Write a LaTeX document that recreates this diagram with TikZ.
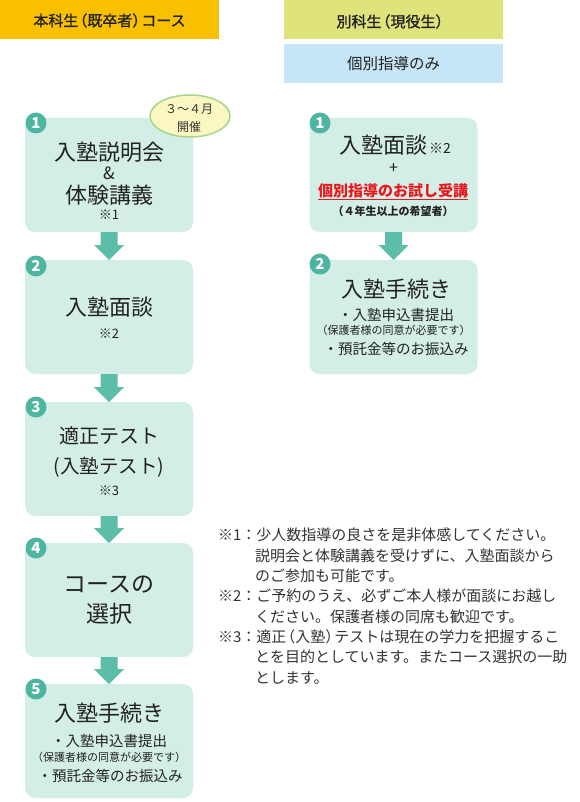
\documentclass[tikz,border=0pt]{standalone}
\usepackage{fontspec}
\setmainfont{Noto Sans CJK JP}
\newfontfamily\medfont[FakeBold=1.2]{Noto Sans CJK JP}
\usetikzlibrary{shapes.geometric,calc}
\definecolor{hdrorange}{HTML}{F9C000}
\definecolor{hdrgreen}{HTML}{DEE47B}
\definecolor{hdrblue}{HTML}{C6E6F8}
\definecolor{boxfill}{HTML}{D3EDE7}
\definecolor{arrowc}{HTML}{5CBEA8}
\definecolor{numc}{HTML}{4DB5A2}
\definecolor{txt}{HTML}{222222}
\definecolor{notetxt}{HTML}{333333}
\definecolor{redtxt}{HTML}{E8191E}
\definecolor{ellfill}{HTML}{FBF7C2}
\definecolor{elldraw}{HTML}{A6D68E}
\newcommand{\fs}[1]{\fontsize{#1}{#1}\selectfont}
\newcommand{\flowarrow}[2]{%
  \fill[arrowc] ($(#1.south)+(-8.5,0)$) -- ($(#2.north)+(-8.5,-15)$) -- ($(#2.north)+(-15,-15)$) -- (#2.north)
    -- ($(#2.north)+(15,-15)$) -- ($(#2.north)+(8.5,-15)$) -- ($(#1.south)+(8.5,0)$) -- cycle;}
\begin{document}
\begin{tikzpicture}[x=1pt,y=-1pt,
  every node/.style={inner sep=0pt, outer sep=0pt, text=txt},
  hdr/.style={rectangle, minimum height=39pt, minimum width=219pt, anchor=north west},
  flowbox/.style={rectangle, rounded corners=10pt, fill=boxfill, minimum width=168pt, minimum height=114pt},
  numdot/.style={circle, fill=numc, minimum size=21pt, text=white, font=\bfseries\fs{15}},
  big/.style={font=\fs{22}},
  small/.style={font=\fs{13}},
  bullet/.style={font=\fs{14.5}},
  tiny/.style={font=\fs{11}},
  note/.style={anchor=west, font=\fs{15}, text=notetxt},
]
\useasboundingbox (0,0) rectangle (580,802);
\fill[white] (0,0) rectangle (580,802);

% headers
\node[hdr, fill=hdrorange] (h1) at (0,0) {};
\node[font=\medfont\fs{15}] (h1t) at ($(h1.center)+(0,1)$) {本科生\kern-.4em（既卒者）\kern-.4em コース};
\node[hdr, fill=hdrgreen] (h2) at (284,0) {};
\node[font=\medfont\fs{15}] (h2t) at ($(h2.center)+(0,2)$) {別科生\kern-.4em（現役生）};
\node[hdr, fill=hdrblue] (h3) at (284,44) {};
\node[font=\fs{15.5}] (h3t) at (h3.center) {個別指導のみ};

% left boxes
\node[flowbox] (b1) at (109,175) {};
\node[flowbox] (b2) at (109,317) {};
\node[flowbox] (b3) at (109,459) {};
\node[flowbox] (b4) at (109,600) {};
\node[flowbox] (b5) at (109,741) {};
% right boxes
\node[flowbox] (r1) at (393.5,175) {};
\node[flowbox] (r2) at (393.5,317) {};

% arrows
\flowarrow{b1}{b2}
\flowarrow{b2}{b3}
\flowarrow{b3}{b4}
\flowarrow{b4}{b5}
\flowarrow{r1}{r2}

% number dots
\node[numdot] (n1) at (36,123) {1};
\node[numdot] (n2) at (36,266) {2};
\node[numdot] (n3) at (36,407) {3};
\node[numdot] (n4) at (36,548) {4};
\node[numdot] (n5) at (36,689) {5};
\node[numdot] (m1) at (320,123) {1};
\node[numdot] (m2) at (320,264) {2};

% ellipse
\node[ellipse, fill=ellfill, draw=elldraw, line width=1.5pt, minimum width=80pt, minimum height=42pt] (el) at (190,116) {};
\node[font=\fs{12}, text=notetxt] (elt1) at (189,109) {３～４月};
\node[font=\fs{12}, text=notetxt] (elt2) at (189,127) {開催};

% box 1 text
\node[big] (b1a) at (109,152) {入塾説明会};
\node[font=\fs{17}] (b1b) at (109,173) {\&};
\node[big] (b1c) at (109,195) {体験講義};
\node[small] (b1d) at (109,215) {※1};
% box 2
\node[big] (b2a) at (109,307) {入塾面談};
\node[small] (b2b) at (109,334) {※2};
% box 3
\node[font=\fs{20}] (b3a) at (109,436) {適正テスト};
\node[font=\fs{19.5}] (b3b) at (109,467) {(入塾テスト)};
\node[small] (b3c) at (109,491) {※3};
% box 4
\node[font=\fs{23}] (b4a) at (109,585) {コースの};
\node[font=\fs{23}] (b4b) at (109,614) {選択};
% box 5
\node[big] (b5a) at (109,713) {入塾手続き};
\node[bullet] (b5b) at (109,741) {・入塾申込書提出};
\node[tiny] (b5c) at (109,757) {（保護者様の同意が必要です）};
\node[bullet] (b5d) at (110,776) {・預託金等のお振込み};

% right box 1
\node[big] (r1a) at (395,145) {入塾面談\kern2pt{\fs{14}※2}};
\node[font=\fs{16}] (r1b) at (393.5,169) {+};
\node[font=\bfseries\fs{15}, text=redtxt] (r1c) at (393,191) {個別指導のお試し受講};
\draw[redtxt, line width=0.9pt] ($(r1c.south west)+(0,1)$) -- ($(r1c.south east)+(0,1)$);
\node[font=\bfseries\fs{11}] (r1d) at (393,211) {（４年生以上の希望者）};
% right box 2
\node[big] (r2a) at (396,289) {入塾手続き};
\node[bullet] (r2b) at (396,315) {・入塾申込書提出};
\node[tiny] (r2c) at (393.5,330) {（保護者様の同意が必要です）};
\node[bullet] (r2d) at (396,349) {・預託金等のお振込み};

% notes
\node[note] (t1a) at (218,535) {※1：少人数指導の良さを是非体感してください。};
\node[note] (t1b) at (255,556) {説明会と体験講義を受けずに、入塾面談から};
\node[note] (t1c) at (255,576) {のご参加も可能です。};
\node[note] (t2a) at (218,596) {※2：ご予約のうえ、必ずご本人様が面談にお越し};
\node[note] (t2b) at (255,617) {ください。保護者様の同席も歓迎です。};
\node[note] (t3a) at (218,637) {※3：適正\kern-.4em（入塾）\kern-.4em テストは現在の学力を把握するこ};
\node[note] (t3b) at (255,657) {とを目的としています。またコース選択の一助};
\node[note] (t3c) at (255,678) {とします。};
\end{tikzpicture}
\end{document}
